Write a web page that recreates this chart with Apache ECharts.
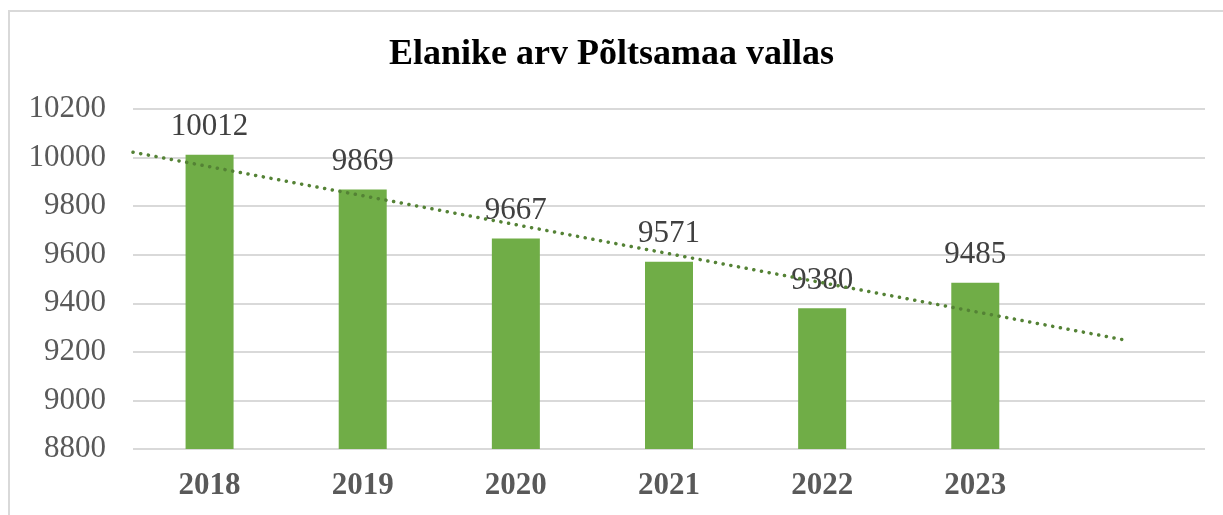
<!DOCTYPE html>
<html>
<head>
<meta charset="utf-8">
<script src="https://cdn.jsdelivr.net/npm/echarts@6/dist/echarts.min.js"></script>
<style>
  html, body { margin: 0; padding: 0; background: #fff; }
  #chart { width: 1223px; height: 515px; }
</style>
</head>
<body>
<div id="chart"></div>
<script>
// data
const years = ['2018', '2019', '2020', '2021', '2022', '2023', '']
const residents = [10012, 9869, 9667, 9571, 9380, 9485]
// linear trendline endpoints (x in category units, 1 = first year)
const trendX = [0.5, 7]
const trendY = [10022, 9246]

const serif = '"Liberation Serif", "Times New Roman", serif'

const myChart = echarts.init(document.getElementById('chart'))
myChart.setOption({
  animation: false,
  backgroundColor: '#fff',
  title: {
    text: 'Elanike arv Põltsamaa vallas',
    left: 'center',
    top: 32,
    textStyle: {
      fontFamily: serif,
      fontWeight: 'bold',
      fontSize: 36,
      color: '#000'
    }
  },
  graphic: [{
    type: 'rect',
    shape: { x: 9, y: 11, width: 1400, height: 700 },
    style: { fill: 'none', stroke: '#d9d9d9', lineWidth: 2 },
    silent: true
  }],
  grid: {
    left: 133,
    right: 18,
    top: 109,
    bottom: 66
  },
  xAxis: [
    {
      type: 'category',
      data: years,
      boundaryGap: true,
      axisLine: { show: false },
      axisTick: { show: false },
      axisLabel: {
        fontFamily: serif,
        fontWeight: 'bold',
        fontSize: 31,
        color: '#595959',
        margin: 21
      }
    },
    {
      type: 'value',
      min: 0.5,
      max: 7.5,
      show: false
    }
  ],
  yAxis: {
    type: 'value',
    min: 8800,
    max: 10200,
    interval: 200,
    axisLine: { show: false },
    axisTick: { show: false },
    splitLine: { lineStyle: { color: '#d9d9d9', width: 2 } },
    axisLabel: {
      fontFamily: serif,
      fontSize: 31,
      color: '#595959',
      margin: 27,
      formatter: v => String(v)
    }
  },
  series: [
    {
      type: 'bar',
      data: residents,
      barWidth: 48,
      itemStyle: { color: '#70ad47' },
      label: {
        show: true,
        position: 'top',
        distance: 12,
        fontFamily: serif,
        fontSize: 31,
        color: '#404040'
      }
    },
    {
      type: 'line',
      xAxisIndex: 1,
      data: trendX.map((x, i) => [x, trendY[i]]),
      symbol: 'none',
      lineStyle: {
        color: '#548235',
        width: 3.5,
        type: [0.1, 7.7],
        cap: 'round'
      },
      z: 3
    }
  ]
})
</script>
</body>
</html>
